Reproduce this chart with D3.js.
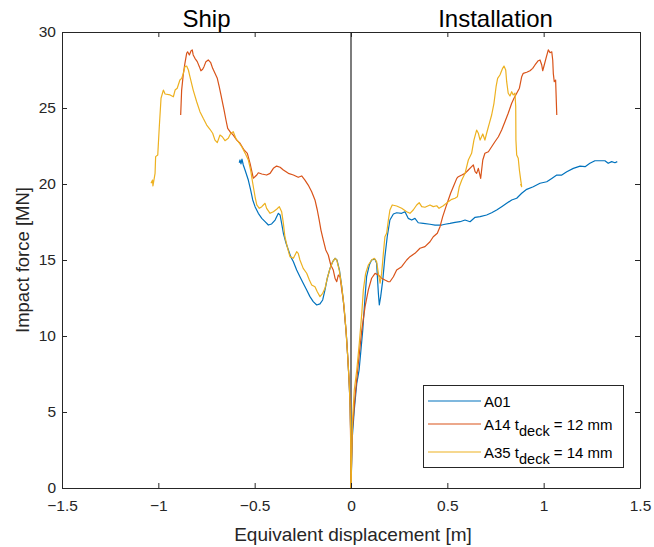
<!DOCTYPE html>
<html>
<head>
<meta charset="utf-8">
<script src="https://cdn.jsdelivr.net/npm/d3@7"></script>
<style>
  html, body { margin: 0; padding: 0; background: #fff; }
  svg { display: block; font-family: "Liberation Sans", Arial, Helvetica, sans-serif; }
</style>
</head>
<body>
<svg id="chart" width="654" height="547"></svg>
<script>
// Force-displacement curves: [displacement (m), force (MN)]
// Negative displacement = ship deformation, positive = installation deformation.
const a01Ship = [[-0.580,21.40],[-0.576,21.58],[-0.571,21.32],[-0.566,21.64],[-0.559,21.25],[-0.550,20.92],[-0.533,20.26],[-0.521,19.61],[-0.510,18.95],[-0.498,18.51],[-0.481,18.07],[-0.463,17.74],[-0.446,17.52],[-0.429,17.30],[-0.412,17.37],[-0.394,17.63],[-0.377,18.07],[-0.368,17.96],[-0.360,17.41],[-0.351,16.76],[-0.337,16.10],[-0.325,15.66],[-0.313,15.22],[-0.299,14.89],[-0.282,14.34],[-0.265,13.90],[-0.248,13.47],[-0.230,13.03],[-0.213,12.59],[-0.196,12.26],[-0.178,12.04],[-0.161,12.11],[-0.147,12.37],[-0.135,13.03],[-0.123,13.80],[-0.109,14.45],[-0.095,14.89],[-0.083,15.11],[-0.073,15.00],[-0.060,14.34],[-0.047,13.16],[-0.035,11.71],[-0.024,10.07],[-0.016,8.42],[-0.009,6.78],[-0.004,5.13],[-0.001,3.20],[0,0]];
const a01Installation = [[0,0],[0.007,3.38],[0.017,5.13],[0.030,6.89],[0.042,7.76],[0.050,8.86],[0.061,10.39],[0.073,12.59],[0.081,13.90],[0.095,14.67],[0.107,15.00],[0.125,15.05],[0.133,14.78],[0.142,12.81],[0.147,12.04],[0.154,12.59],[0.165,13.68],[0.176,15.22],[0.188,16.53],[0.202,17.63],[0.220,18.03],[0.237,18.11],[0.263,18.07],[0.280,18.18],[0.297,17.74],[0.315,17.63],[0.332,17.74],[0.349,17.45],[0.375,17.41],[0.410,17.35],[0.436,17.30],[0.471,17.30],[0.488,17.35],[0.514,17.41],[0.540,17.48],[0.566,17.52],[0.592,17.63],[0.618,17.52],[0.644,17.81],[0.670,17.85],[0.704,17.96],[0.730,18.11],[0.756,18.29],[0.782,18.51],[0.808,18.73],[0.834,18.95],[0.860,19.06],[0.886,19.39],[0.912,19.65],[0.946,19.82],[0.981,20.05],[1.016,20.15],[1.042,20.37],[1.068,20.59],[1.094,20.59],[1.120,20.81],[1.154,21.03],[1.189,21.18],[1.215,21.14],[1.240,21.36],[1.266,21.53],[1.292,21.53],[1.318,21.53],[1.335,21.36],[1.353,21.47],[1.370,21.40],[1.382,21.47]];

const a14Ship = [[-0.884,24.54],[-0.879,26.18],[-0.870,27.28],[-0.862,27.94],[-0.853,28.60],[-0.848,28.70],[-0.839,28.49],[-0.830,28.77],[-0.824,28.82],[-0.819,28.49],[-0.810,28.27],[-0.798,28.05],[-0.787,27.72],[-0.779,27.45],[-0.770,27.55],[-0.763,27.72],[-0.753,28.05],[-0.741,28.16],[-0.728,27.98],[-0.718,27.61],[-0.706,27.28],[-0.694,26.95],[-0.684,26.40],[-0.675,25.86],[-0.666,25.31],[-0.659,24.87],[-0.649,24.21],[-0.640,23.66],[-0.628,23.44],[-0.611,23.22],[-0.593,22.89],[-0.576,22.68],[-0.555,22.24],[-0.538,22.02],[-0.524,21.36],[-0.507,20.38],[-0.489,20.59],[-0.481,20.74],[-0.463,20.66],[-0.438,20.59],[-0.420,20.70],[-0.403,21.03],[-0.386,21.18],[-0.368,21.10],[-0.351,20.92],[-0.325,20.70],[-0.299,20.59],[-0.274,20.44],[-0.256,20.53],[-0.239,20.26],[-0.222,19.93],[-0.204,19.49],[-0.187,18.95],[-0.175,18.29],[-0.165,17.63],[-0.156,16.97],[-0.144,16.32],[-0.131,15.66],[-0.118,15.33],[-0.105,14.67],[-0.092,14.34],[-0.083,13.80],[-0.074,13.57],[-0.066,14.01],[-0.057,13.90],[-0.048,13.03],[-0.040,12.37],[-0.026,10.39],[-0.017,8.64],[-0.010,7.11],[-0.005,5.57],[-0.002,3.20],[0,0]];
const a14Installation = [[0,0],[0.007,3.82],[0.021,6.01],[0.038,8.20],[0.056,10.39],[0.073,11.93],[0.090,13.03],[0.107,13.80],[0.125,14.12],[0.142,14.01],[0.159,13.80],[0.176,13.68],[0.194,13.57],[0.202,13.57],[0.220,13.90],[0.237,14.34],[0.263,14.56],[0.289,15.00],[0.306,15.22],[0.332,15.44],[0.358,15.77],[0.384,15.88],[0.410,16.20],[0.427,16.53],[0.448,16.76],[0.462,17.19],[0.476,17.85],[0.493,18.51],[0.505,18.95],[0.517,19.39],[0.531,19.82],[0.549,20.37],[0.557,20.48],[0.575,20.59],[0.592,20.70],[0.609,20.92],[0.626,21.14],[0.635,21.25],[0.644,20.81],[0.652,20.70],[0.661,21.03],[0.673,20.37],[0.684,21.58],[0.695,22.02],[0.713,22.12],[0.730,22.45],[0.747,22.78],[0.765,23.11],[0.782,23.55],[0.799,24.10],[0.816,24.65],[0.834,25.31],[0.846,25.64],[0.860,25.97],[0.874,26.30],[0.886,27.06],[0.894,27.28],[0.912,27.35],[0.929,27.45],[0.943,27.61],[0.955,27.83],[0.972,28.11],[0.981,28.16],[0.990,27.83],[0.995,27.45],[1.003,27.83],[1.012,28.27],[1.024,28.82],[1.033,28.64],[1.042,28.70],[1.047,28.16],[1.050,27.28],[1.055,26.73],[1.062,26.84],[1.068,24.54]];

const a35Ship = [[-1.038,20.05],[-1.030,20.26],[-1.028,19.87],[-1.017,20.70],[-1.014,21.80],[-1.003,21.91],[-0.995,23.77],[-0.986,25.64],[-0.974,26.18],[-0.965,25.92],[-0.939,25.86],[-0.922,25.74],[-0.913,26.18],[-0.902,26.30],[-0.888,26.84],[-0.879,26.95],[-0.870,27.28],[-0.862,27.72],[-0.853,27.76],[-0.844,27.50],[-0.836,27.06],[-0.819,26.18],[-0.801,25.41],[-0.784,24.76],[-0.767,24.32],[-0.749,23.88],[-0.732,23.60],[-0.718,23.34],[-0.706,22.89],[-0.694,22.72],[-0.680,23.22],[-0.668,23.11],[-0.654,22.85],[-0.637,23.01],[-0.624,23.34],[-0.611,23.44],[-0.598,23.01],[-0.585,22.78],[-0.567,22.45],[-0.545,21.91],[-0.533,21.58],[-0.521,20.92],[-0.510,20.05],[-0.498,19.16],[-0.489,18.62],[-0.476,18.40],[-0.463,18.51],[-0.455,18.62],[-0.446,18.73],[-0.438,18.40],[-0.420,18.07],[-0.403,18.18],[-0.386,18.34],[-0.372,18.51],[-0.360,18.18],[-0.351,17.41],[-0.343,16.53],[-0.331,15.88],[-0.317,15.22],[-0.299,15.11],[-0.282,15.55],[-0.274,15.44],[-0.265,15.00],[-0.248,14.45],[-0.230,14.13],[-0.216,13.68],[-0.204,13.36],[-0.187,13.24],[-0.175,12.91],[-0.161,12.59],[-0.147,12.81],[-0.135,13.14],[-0.123,13.80],[-0.109,14.45],[-0.095,14.89],[-0.083,15.11],[-0.074,15.00],[-0.061,14.34],[-0.048,13.24],[-0.036,11.93],[-0.026,10.39],[-0.017,8.64],[-0.010,7.11],[-0.005,5.57],[-0.002,3.80],[-0.001,1.60],[0,0]];
const a35Installation = [[0,0],[0.007,4.25],[0.017,6.45],[0.030,7.76],[0.043,9.52],[0.056,11.49],[0.064,13.03],[0.076,14.12],[0.090,14.67],[0.107,15.00],[0.121,15.11],[0.133,14.89],[0.142,14.12],[0.151,13.47],[0.159,14.12],[0.168,15.44],[0.176,16.53],[0.185,16.76],[0.194,17.63],[0.202,18.29],[0.214,18.62],[0.237,18.55],[0.263,18.40],[0.289,18.18],[0.306,18.07],[0.323,18.29],[0.341,18.62],[0.354,18.77],[0.367,18.51],[0.384,18.47],[0.410,18.62],[0.427,18.51],[0.445,18.57],[0.457,18.40],[0.479,18.57],[0.505,18.84],[0.523,18.99],[0.540,19.06],[0.552,19.16],[0.562,19.82],[0.575,20.26],[0.592,20.70],[0.609,21.58],[0.626,22.02],[0.638,22.89],[0.652,23.55],[0.661,23.34],[0.670,22.89],[0.684,23.29],[0.695,22.89],[0.704,23.34],[0.718,23.99],[0.730,24.54],[0.742,25.31],[0.753,26.40],[0.761,26.95],[0.773,27.17],[0.787,27.61],[0.794,27.76],[0.803,27.50],[0.808,26.73],[0.816,25.97],[0.825,25.79],[0.834,26.07],[0.842,25.86],[0.851,25.97],[0.855,25.09],[0.856,22.89],[0.860,21.91],[0.868,21.69],[0.874,20.92],[0.881,20.26],[0.886,19.82],[0.880,20.00]];

const seriesNames = ["A01", "A14", "A35"];
const seriesColors = ["#0072BD", "#D95319", "#EDB120"];
const xTicks = [-1.5, -1, -0.5, 0, 0.5, 1, 1.5];
const yTicks = [0, 5, 10, 15, 20, 25, 30];
const panelTitles = [{ text: "Ship", at: -0.75 }, { text: "Installation", at: 0.75 }];

const series = [
  { name: seriesNames[0], color: seriesColors[0], parts: [a01Ship, a01Installation] },
  { name: seriesNames[1], color: seriesColors[1], parts: [a14Ship, a14Installation] },
  { name: seriesNames[2], color: seriesColors[2], parts: [a35Ship, a35Installation] }
];

const svg = d3.select("#chart");
const L = 62, R = 640, T = 32, B = 488;
const axisColor = "#262626";

const x = d3.scaleLinear().domain([-1.5, 1.5]).range([L, R]);
const y = d3.scaleLinear().domain([0, 30]).range([B, T]);

// zero-displacement divider
svg.append("line")
  .attr("x1", x(0)).attr("x2", x(0))
  .attr("y1", y(30)).attr("y2", y(0))
  .attr("stroke", "#262626").attr("stroke-width", 1.2);

const line = d3.line().x(d => x(d[0])).y(d => y(d[1]));

const plot = svg.append("g");
series.forEach(s => {
  s.parts.forEach(p => {
    plot.append("path")
      .datum(p)
      .attr("d", line)
      .attr("fill", "none")
      .attr("stroke", s.color)
      .attr("stroke-width", 1.2)
      .attr("stroke-linejoin", "round");
  });
});

function styleAxis(g) {
  g.select(".domain").attr("stroke", axisColor);
  g.selectAll(".tick line").attr("stroke", axisColor);
  g.selectAll(".tick text").attr("fill", axisColor).attr("font-size", 15.5)
    .attr("font-family", '"Liberation Sans", Arial, sans-serif');
}

const fmt = d => d3.format("")(d);

svg.append("g").attr("transform", `translate(0,${B})`)
  .call(d3.axisBottom(x).tickValues(xTicks).tickFormat(fmt).tickSize(-5).tickSizeOuter(0).tickPadding(12))
  .call(styleAxis);
svg.append("g").attr("transform", `translate(0,${T})`)
  .call(d3.axisTop(x).tickValues(xTicks).tickFormat("").tickSize(-5).tickSizeOuter(0))
  .call(styleAxis);
svg.append("g").attr("transform", `translate(${L},0)`)
  .call(d3.axisLeft(y).tickValues(yTicks).tickFormat(fmt).tickSize(-5).tickSizeOuter(0).tickPadding(6))
  .call(styleAxis);
svg.append("g").attr("transform", `translate(${R},0)`)
  .call(d3.axisRight(y).tickValues(yTicks).tickFormat("").tickSize(-5).tickSizeOuter(0))
  .call(styleAxis);

// panel titles
svg.selectAll("text.title").data(panelTitles).enter().append("text")
  .attr("class", "title")
  .attr("x", d => x(d.at)).attr("y", 27)
  .attr("text-anchor", "middle")
  .attr("font-size", 24)
  .attr("fill", "#000")
  .text(d => d.text);

// axis labels
svg.append("text")
  .attr("x", (L + R) / 2 + 2).attr("y", 541)
  .attr("text-anchor", "middle").attr("font-size", 19).attr("fill", axisColor)
  .text("Equivalent displacement [m]");
svg.append("text")
  .attr("transform", `translate(29,${(T + B) / 2}) rotate(-90)`)
  .attr("text-anchor", "middle").attr("font-size", 18.5).attr("fill", axisColor)
  .text("Impact force [MN]");

// legend
const legend = svg.append("g");
legend.append("rect")
  .attr("x", 423.5).attr("y", 385.5).attr("width", 200).attr("height", 82)
  .attr("fill", "#fff").attr("stroke", axisColor).attr("stroke-width", 1);

const legendRows = [
  { color: seriesColors[0], label: seriesNames[0], sub: null, tail: null, y: 401 },
  { color: seriesColors[1], label: seriesNames[1] + " t", sub: "deck", tail: " = 12 mm", y: 424 },
  { color: seriesColors[2], label: seriesNames[2] + " t", sub: "deck", tail: " = 14 mm", y: 452 }
];
legendRows.forEach(r => {
  legend.append("line")
    .attr("x1", 428).attr("x2", 481).attr("y1", r.y).attr("y2", r.y)
    .attr("stroke", r.color).attr("stroke-width", 1.2);
  const t = legend.append("text")
    .attr("x", 484).attr("y", r.y + 5.5)
    .attr("font-size", 15).attr("fill", "#000");
  t.append("tspan").text(r.label);
  if (r.sub) {
    t.append("tspan").attr("dy", 6.5).attr("font-size", 14.5).text(r.sub);
    t.append("tspan").attr("dy", -6.5).text(r.tail);
  }
});
</script>
</body>
</html>
